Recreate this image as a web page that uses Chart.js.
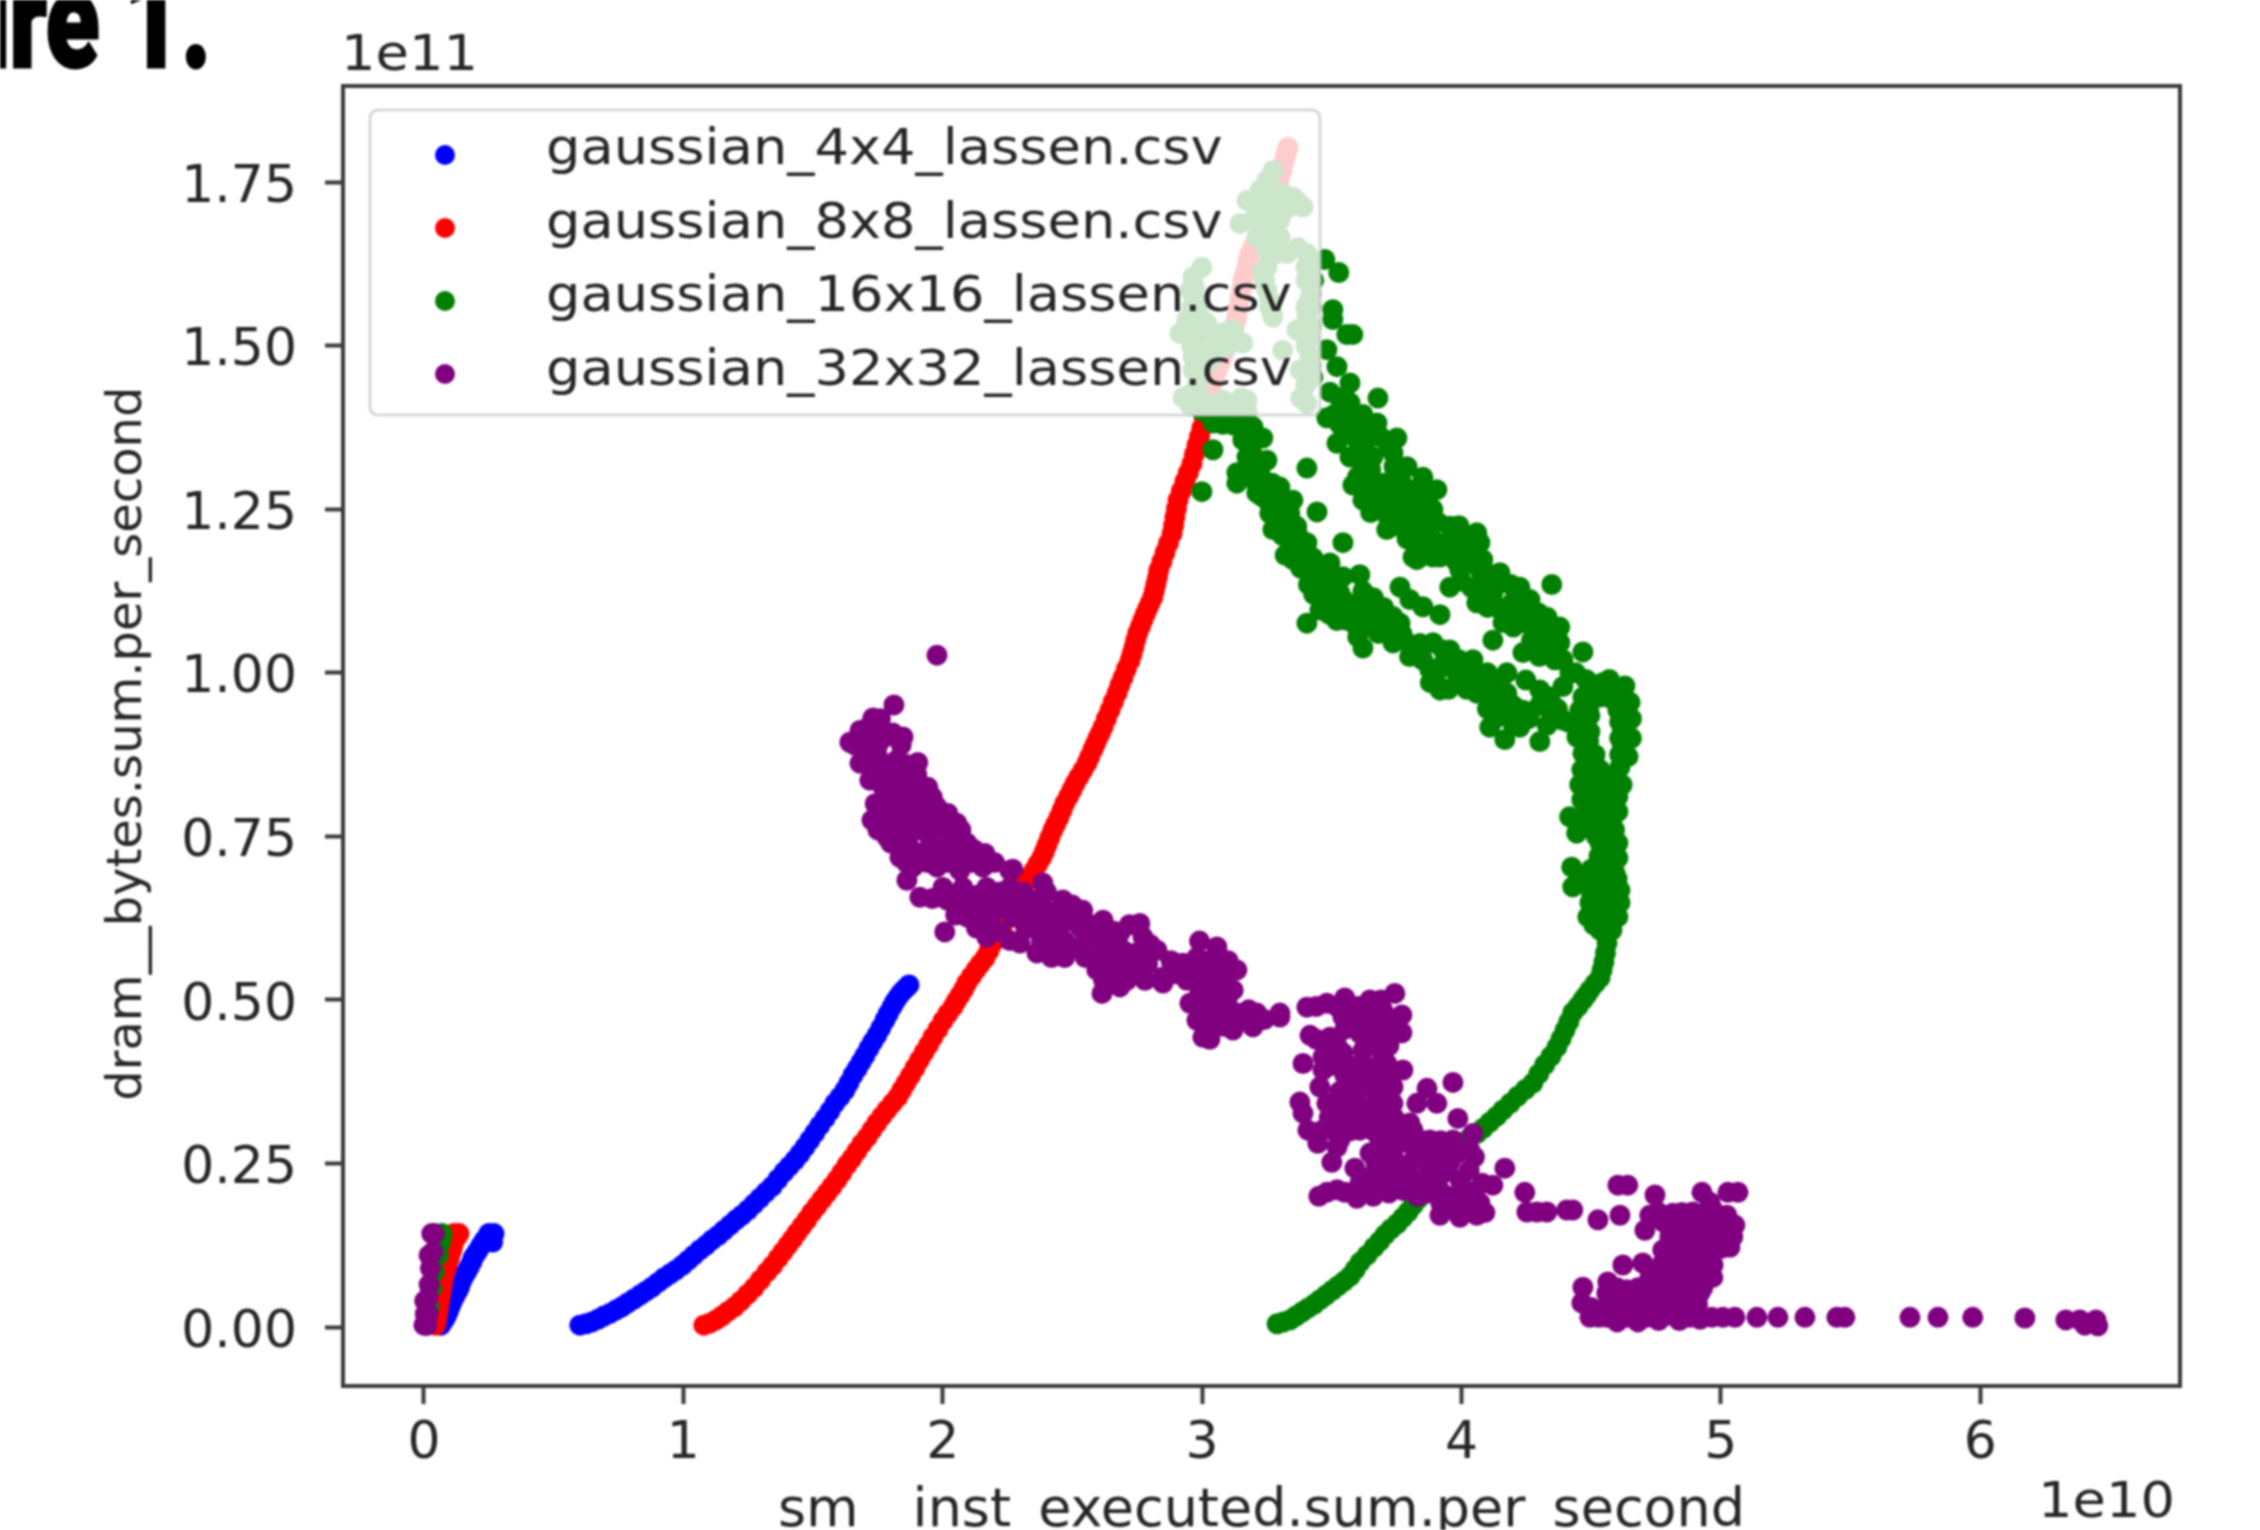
<!DOCTYPE html>
<html>
<head>
<meta charset="utf-8">
<script src="https://cdn.jsdelivr.net/npm/chart.js@4"></script>
<style>
html,body{margin:0;padding:0;background:#fff;overflow:hidden}
canvas{display:block;filter:blur(1px)}
</style>
</head>
<body>
<canvas id="c" width="2260" height="1530"></canvas>
<script>
const seriesLabels = ["gaussian_4x4_lassen.csv","gaussian_8x8_lassen.csv","gaussian_16x16_lassen.csv","gaussian_32x32_lassen.csv"];
const xTickValues = [0,1,2,3,4,5,6];
const yTickValues = [0,0.25,0.5,0.75,1,1.25,1.5,1.75];
const xAxisLabel = "sm__inst_executed.sum.per_second";
const yAxisLabel = "dram__bytes.sum.per_second ";

const gaussian4x4 = [[.065,.003],[.08,.012],[.095,.025],[.11,.04],[.13,.055],[.145,.07],[.165,.085],[.185,.1],[.2,.112],[.22,.125],[.245,.138],[.27,.143],[.25,.143],
[.072,.008],[.088,.018],[.102,.032],[.12,.048],[.138,.062],[.155,.078],[.175,.092],[.19,.106],[.21,.118],[.232,.132],[.258,.14],[.265,.13],
[.601,.003],[.648,.008],[.694,.017],[.74,.026],[.786,.037],[.833,.049],[.879,.061],[.925,.075],[.971,.087],[1.018,.102],[1.064,.118],[1.11,.133],[1.157,.148],[1.203,.164],[1.249,.179],[1.295,.197],[1.342,.215],[1.388,.237],[1.43,.255],[1.469,.275],[1.507,.297],[1.546,.319],[1.584,.342],[1.623,.362],[1.654,.385],[1.685,.405],[1.715,.426],[1.746,.446],[1.777,.469],[1.804,.489],[1.827,.504],[1.85,.515],[1.87,.523],
[.625,.005],[.671,.012],[.717,.021],[.763,.031],[.81,.043],[.856,.055],[.902,.068],[.948,.081],[.995,.094],[1.041,.11],[1.087,.125],[1.134,.14],[1.18,.156],[1.226,.171],[1.272,.188],[1.318,.206],[1.365,.226],[1.409,.246],[1.45,.265],[1.488,.286],[1.526,.308],[1.565,.33],[1.604,.352],[1.638,.373],[1.67,.395],[1.7,.415],[1.73,.436],[1.761,.457],[1.79,.479],[1.815,.497],[1.838,.51],[1.86,.519]];

const gaussian8x8 = [[.045,.003],[.055,.025],[.065,.05],[.075,.075],[.09,.095],[.105,.115],[.115,.13],[.135,.143],[.115,.143],
[.05,.014],[.06,.038],[.07,.062],[.082,.085],[.098,.105],[.11,.122],[.125,.137],
[1.079,.003],[1.126,.011],[1.172,.024],[1.222,.04],[1.272,.06],[1.322,.084],[1.365,.105],[1.403,.125],[1.438,.144],[1.476,.164],[1.515,.185],[1.554,.205],[1.592,.225],[1.631,.248],[1.669,.269],[1.708,.29],[1.746,.312],[1.785,.332],[1.827,.352],[1.858,.373],[1.893,.396],[1.928,.42],[1.962,.443],[2.001,.468],[2.039,.489],[2.066,.507],[2.093,.526],[2.128,.546],[2.163,.564],[2.193,.587],[2.228,.61],[2.259,.634],[2.29,.657],[2.321,.68],[2.352,.698],[2.382,.718],[2.402,.737],[2.425,.76],[2.448,.779],[2.471,.801],[2.498,.821],[2.525,.841],[2.556,.862],[2.579,.883],[2.598,.9],[2.618,.917],[2.645,.943],[2.672,.969],[2.695,.993],[2.722,1.019],[2.737,1.039],[2.752,1.061],[2.772,1.081],[2.791,1.099],[2.81,1.116],[2.822,1.136],[2.833,1.157],[2.857,1.184],[2.884,1.213],[2.895,1.238],[2.907,1.264],[2.934,1.293],[2.961,1.32],[2.98,1.348],[2.999,1.374],[3.018,1.405],[3.03,1.432],[3.049,1.453],[3.069,1.473],[3.088,1.492],[3.107,1.508],[3.123,1.527],[3.134,1.544],[3.146,1.573],[3.157,1.6],[3.173,1.622],[3.184,1.641],[3.211,1.664],[3.242,1.689],[3.269,1.707],[3.288,1.738],[3.308,1.768],[3.319,1.787],[3.331,1.803],
[1.102,.006],[1.149,.017],[1.197,.031],[1.247,.05],[1.297,.072],[1.344,.094],[1.384,.115],[1.42,.134],[1.457,.154],[1.495,.175],[1.534,.195],[1.573,.215],[1.611,.236],[1.65,.258],[1.688,.28],[1.727,.301],[1.765,.322],[1.806,.342],[1.842,.362],[1.875,.384],[1.91,.408],[1.945,.431],[1.981,.455],[2.02,.479],[2.052,.498],[2.08,.516],[2.11,.536],[2.145,.555],[2.178,.575],[2.21,.598],[2.243,.622],[2.275,.645],[2.305,.668],[2.336,.689],[2.367,.708],[2.392,.727],[2.413,.748],[2.436,.769],[2.46,.79],[2.485,.811],[2.51,.831],[2.54,.851],[2.567,.872],[2.588,.891],[2.608,.908],[2.631,.93],[2.658,.956],[2.683,.981],[2.708,1.006],[2.73,1.029],[2.744,1.05],[2.762,1.071],[2.781,1.09],[2.8,1.107],[2.816,1.126],[2.828,1.146],[2.845,1.17],[2.87,1.198],[2.89,1.225],[2.901,1.251],[2.92,1.278],[2.947,1.306],[2.97,1.334],[2.99,1.361],[3.008,1.39],[3.024,1.418],[3.04,1.442],[3.059,1.463],[3.078,1.482],[3.097,1.5],[3.115,1.517],[3.128,1.535],[3.14,1.558],[3.151,1.586],[3.165,1.611],[3.178,1.631],[3.197,1.652],[3.226,1.676],[3.255,1.698],[3.278,1.722],[3.298,1.753],[3.313,1.778],[3.325,1.795]];

const gaussian16x16 = [[.012,.003],[.02,.03],[.03,.06],[.04,.085],[.055,.11],[.065,.13],[.07,.143],
[3.289,.005],[3.339,.011],[3.385,.023],[3.432,.035],[3.478,.049],[3.524,.063],[3.571,.078],[3.609,.099],[3.663,.122],[3.705,.141],[3.752,.158],[3.794,.176],[3.833,.196],[3.886,.225],[3.94,.255],[3.994,.278],[4.059,.296],[4.109,.313],[4.16,.332],[4.217,.353],[4.275,.373],[4.321,.401],[4.368,.428],[4.399,.454],[4.429,.481],[4.468,.5],[4.495,.515],[4.534,.534],[4.549,.558],[4.561,.587],
[3.314,.008],[3.362,.017],[3.408,.029],[3.455,.042],[3.501,.056],[3.547,.07],[3.59,.088],[3.636,.11],[3.684,.131],[3.728,.15],[3.773,.167],[3.813,.186],[3.86,.21],[3.913,.24],[3.967,.266],[4.026,.287],[4.084,.304],[4.135,.322],[4.188,.342],[4.246,.363],[4.298,.387],[4.345,.414],[4.384,.441],[4.414,.467],[4.449,.49],[4.481,.507],[4.515,.525],[4.542,.546],[4.555,.572],
[4.534,.607],[4.58,.607],[4.487,.627],[4.553,.627],[4.603,.627],[4.495,.649],[4.572,.649],[4.611,.649],[4.518,.673],[4.58,.673],[4.429,.673],[4.611,.668],[4.526,.694],[4.592,.694],[4.425,.703],[4.553,.717],[4.603,.717],[4.534,.74],[4.603,.74],[4.444,.755],[4.495,.763],[4.572,.763],[4.417,.78],[4.476,.783],[4.553,.783],[4.603,.788],[4.464,.806],[4.534,.806],[4.603,.811],[4.456,.829],[4.534,.829],[4.619,.829],[4.464,.852],[4.534,.852],[4.611,.856],[4.468,.877],[4.495,.856],[4.561,.841],[4.642,.872],[4.642,.902],[4.65,.928],[4.445,.902],[4.468,.917],[4.456,.943],[4.603,.943],[4.626,.963],[4.534,.963],[4.468,.963],[4.495,.985],[4.545,.985],[4.391,.979],[4.418,1],
[4.495,.88],[4.495,.91],[4.495,.935],[4.495,.96],[4.61,.875],[4.61,.9],[4.61,.925],[4.615,.95],[4.655,.9],[4.655,.93],[4.65,.955],
[4.56,.6],[4.51,.615],[4.525,.63],[4.59,.625],[4.535,.655],[4.59,.66],[4.5,.665],[4.55,.68],[4.6,.685],[4.47,.69],[4.5,.7],[4.55,.7],[4.57,.71],[4.53,.72],[4.58,.73],[4.57,.745],[4.52,.75],[4.55,.755],[4.59,.76],[4.53,.775],[4.58,.775],[4.5,.785],[4.51,.8],[4.57,.8],[4.49,.815],[4.55,.82],[4.59,.825],[4.48,.84],[4.51,.84],[4.575,.84],[4.49,.87],[4.515,.875],[4.62,.89],[4.62,.915],[4.62,.94],[4.64,.95],[4.49,.895],[4.47,.93],[4.49,.945],[4.58,.96],[4.6,.975],[4.52,.98],[4.57,.99],[4.63,.98],
[4.391,1.02],[4.329,1.031],[4.237,1.031],[4.468,1.032],[4.379,1.046],[4.314,1.05],[4.121,1.05],[4.379,1.07],[4.352,1.066],[4.237,1.077],[4.16,1.077],[4.295,1.092],[4.136,1.101],[4.059,1.107],[4.264,1.112],[4.348,1.135],[4.225,1.131],[4.16,1.138],[4.082,1.131],[3.955,1.131],[4.148,1.153],[4.071,1.157],[3.994,1.157],[4.059,1.177],[3.967,1.177],[3.89,1.177],[3.813,1.177],[3.763,1.131],[3.801,1.112],[3.851,1.101],[3.917,1.089],[4.082,1.173],[3.917,1.177],[3.828,1.173],[3.994,1.199],[4.071,1.199],[3.905,1.199],[3.828,1.199],[3.712,1.219],[3.79,1.224],[3.867,1.224],[3.955,1.224],[4.059,1.214],[3.674,1.25],[3.751,1.25],[3.828,1.25],[3.89,1.25],[3.62,1.264],[3.697,1.269],[3.867,1.264],[3.905,1.28],[3.581,1.287],[3.658,1.29],[3.736,1.295],[3.851,1.299],[3.79,1.315],[3.57,1.33],[3.658,1.33],[3.736,1.336],[3.52,1.351],[3.597,1.356],[3.751,1.359],[3.674,1.382],[3.481,1.39],[3.57,1.413],[3.608,1.387],[3.678,1.42],[3.493,1.429],[3.57,1.443],[3.52,1.468],[3.481,1.494],[3.558,1.517],[3.581,1.517],[3.504,1.54],[3.504,1.555],[3.527,1.612],[3.473,1.632],
[3.53,1.42],[3.55,1.4],[3.53,1.38],[3.51,1.395],[3.62,1.395],[3.65,1.37],[3.58,1.37],[3.55,1.365],[3.63,1.36],[3.69,1.36],[3.72,1.345],[3.6,1.335],[3.63,1.34],[3.62,1.315],[3.65,1.31],[3.74,1.315],[3.6,1.3],[3.62,1.285],[3.7,1.29],[3.77,1.29],[3.66,1.265],[3.72,1.265],[3.76,1.27],[3.8,1.28],[3.84,1.275],[3.65,1.245],[3.71,1.245],[3.79,1.25],[3.86,1.25],[3.72,1.235],[3.75,1.225],[3.83,1.225],[3.91,1.23],[3.99,1.225],[4.02,1.21],[3.87,1.2],[3.95,1.2],[4.03,1.2],[3.79,1.205],[3.86,1.18],[3.95,1.185],[3.98,1.17],[4.03,1.175],[4.09,1.155],[4.12,1.145],[4.0,1.14],[4.04,1.13],[4.12,1.12],[4.19,1.135],[4.2,1.11],[4.22,1.095],[4.1,1.1],[4.18,1.1],[4.27,1.09],[4.2,1.07],[4.3,1.07],[4.33,1.085],[4.27,1.05],[4.35,1.045],[4.3,1.025],[4.36,1.02],[4.44,1.0],[4.48,.99],
[3.042,1.382],[3.119,1.379],[3.196,1.376],[3.157,1.356],[3.234,1.359],[3.042,1.341],[3.173,1.33],[3.25,1.325],[3.134,1.306],[3.134,1.29],[3.223,1.306],[3.404,1.313],[2.999,1.277],[3.211,1.275],[3.3,1.284],[3.25,1.264],[3.35,1.264],[3.261,1.244],[3.338,1.244],[3.443,1.246],[3.273,1.219],[3.365,1.224],[3.338,1.199],[3.404,1.199],[3.543,1.199],[3.35,1.173],[3.427,1.176],[3.493,1.168],[3.454,1.147],[3.543,1.147],[3.608,1.15],[3.454,1.116],[3.531,1.122],[3.635,1.116],[3.454,1.096],[3.404,1.076],[3.581,1.096],[3.674,1.096],[3.597,1.07],[3.697,1.076],[3.763,1.076],[3.608,1.107],[3.608,1.076],[3.674,1.081],[3.736,1.086],[3.62,1.038],[3.736,1.046],[3.813,1.04],[3.89,1.046],[3.955,1.035],[4.044,1.02],[3.878,1.005],[3.955,1.009],[4.021,1.005],[3.917,.974],[3.982,.985],[4.059,.969],[4.121,.985],[4.175,1],[4.175,.969],[4.237,.943],[4.175,.933],[4.109,.917],[4.167,.898],[4.302,.895],[4.225,.917],[4.341,.943],[4.391,.928],[4.341,.963],[4.302,.974],[4.248,.989],
[3.08,1.38],[3.16,1.375],[3.2,1.36],[3.19,1.34],[3.21,1.32],[3.17,1.31],[3.2,1.295],[3.24,1.29],[3.27,1.29],[3.23,1.27],[3.29,1.26],[3.32,1.255],[3.3,1.235],[3.33,1.225],[3.31,1.21],[3.37,1.21],[3.37,1.19],[3.32,1.18],[3.39,1.18],[3.38,1.16],[3.41,1.16],[3.44,1.16],[3.41,1.135],[3.49,1.14],[3.43,1.12],[3.48,1.115],[3.5,1.1],[3.55,1.11],[3.49,1.09],[3.52,1.08],[3.56,1.08],[3.62,1.125],[3.66,1.115],[3.7,1.1],[3.63,1.09],[3.65,1.07],[3.6,1.055],[3.68,1.06],[3.72,1.06],[3.77,1.06],[3.78,1.05],[3.84,1.045],[3.93,1.035],[3.99,1.02],[3.8,1.025],[3.85,1.02],[3.92,1.01],[3.99,1],[4.05,.995],[3.9,.99],[3.95,.975],[4.02,.975],[4.09,.97],[4.14,.965],[3.88,.985],[4.02,.99],[4.1,1],[4.1,.945],[4.15,.945],[4.2,.95],[4.3,.95],[4.13,.93],[4.2,.92],[4.26,.93],[4.37,.945],[4.33,.92],[4.37,.93],[4.41,.925],
[2.999,1.62],[2.965,1.605],[2.953,1.585],[2.991,1.565],[2.941,1.539],[3.018,1.535],[2.914,1.519],[2.98,1.513],[3.057,1.508],[3.119,1.524],[3.157,1.504],[2.965,1.483],[3.03,1.478],[2.965,1.463],[3.311,1.493],[3.377,1.463],[2.926,1.421],[3.003,1.417],[3.08,1.417],[3.173,1.417],[3.107,1.401],[3.03,1.401],[3.173,1.401],[2.953,1.409],
[2.97,1.59],[2.96,1.56],[3.0,1.54],[2.95,1.52],[2.99,1.53],[3.03,1.52],[3.08,1.52],[3.1,1.5],[2.96,1.5],[3.0,1.49],[3.05,1.49],[3.0,1.46],[2.98,1.44],[2.95,1.425],[3.05,1.41],[3.12,1.41],[3.15,1.42],[3.0,1.4],
[3.273,1.768],[3.25,1.753],[3.223,1.738],[3.173,1.722],[3.234,1.727],[3.311,1.733],[3.389,1.712],[3.35,1.727],[3.288,1.718],[3.211,1.707],[3.146,1.687],[3.223,1.692],[3.3,1.692],[3.211,1.666],[3.3,1.666],[3.25,1.646],[3.404,1.641],[3.327,1.641],[3.234,1.615],[3.427,1.626],[3.416,1.6],[3.25,1.585],[3.416,1.574],[3.273,1.544],[3.404,1.544],[3.365,1.524],[3.416,1.513],[3.416,1.483],[3.427,1.452],[3.404,1.412],
[3.25,1.72],[3.27,1.74],[3.2,1.72],[3.26,1.705],[3.33,1.71],[3.37,1.72],[3.19,1.69],[3.25,1.68],[3.27,1.66],[3.24,1.66],[3.28,1.64],[3.37,1.65],[3.4,1.62],[3.25,1.62],[3.42,1.58],[3.42,1.56],[3.26,1.56],[3.4,1.525],[3.24,1.6],[3.26,1.57],[3.27,1.55],[3.4,1.6],[3.43,1.6],[3.4,1.56],[3.42,1.53],[3.4,1.5],[3.42,1.47],[3.4,1.44],[3.38,1.42]];

const gaussian32x32 = [[.0,.003],[.012,.003],[.005,.02],[.016,.02],[.003,.04],[.016,.045],[.02,.065],[.025,.09],[.02,.11],[.035,.115],[.04,.143],[.03,.143],
[1.978,1.027],[2.008,.604],[1.812,.951],[1.731,.931],[1.681,.912],[1.642,.894],[1.719,.902],[1.808,.908],[1.847,.902],[1.681,.862],[1.746,.877],[1.823,.867],[1.904,.863],[1.719,.836],[1.796,.841],[1.874,.836],[1.943,.825],[1.769,.805],[1.847,.81],[1.924,.805],[1.978,.795],[1.727,.775],[1.823,.786],[1.901,.779],[1.978,.779],[2.055,.77],[1.785,.749],[1.862,.755],[1.939,.755],[2.028,.755],[2.093,.74],[1.835,.718],[1.912,.724],[1.989,.729],[2.066,.724],[2.163,.724],[1.862,.683],[1.885,.703],[1.978,.703],[2.066,.698],[2.155,.703],[2.259,.698],[1.912,.657],[2.001,.672],[2.078,.672],[2.17,.672],[2.259,.672],[2.386,.679],[2.016,.653],[2.093,.648],[2.182,.653],[2.286,.653],[2.363,.653],[2.463,.653],[2.093,.627],[2.182,.627],[2.271,.627],[2.363,.627],[2.452,.633],[2.54,.637],[2.17,.596],[2.259,.591],[2.298,.587],[2.363,.607],[2.44,.607],[2.529,.611],[2.618,.622],[2.76,.617],[2.363,.572],[2.425,.587],[2.502,.581],[2.594,.596],[2.683,.602],[2.772,.596],[2.594,.565],[2.672,.576],[2.749,.572],[2.826,.576],[2.594,.546],[2.672,.546],[2.749,.546],[2.849,.535],[2.926,.556],[2.614,.51],[2.683,.52],[2.849,.526],[2.98,.565],[3.057,.581],[3.08,.561],[3.134,.546],[3.018,.546],[2.941,.53],[3.03,.526],[3.08,.535],[2.953,.495],[3.03,.5],[3.096,.5],[2.98,.469],[3.057,.474],[3.134,.48],[3.211,.48],[3.3,.48],[3.003,.443],[3.119,.454],[3.196,.459],[3.042,.459],
[1.76,.93],[1.72,.92],[1.77,.9],[1.66,.89],[1.7,.885],[1.75,.89],[1.84,.89],[1.7,.865],[1.76,.86],[1.79,.86],[1.86,.86],[1.75,.84],[1.83,.85],[1.9,.845],[1.77,.825],[1.81,.825],[1.87,.82],[1.92,.825],[1.74,.8],[1.8,.805],[1.88,.8],[1.96,.81],[1.78,.78],[1.85,.785],[1.94,.785],[2.02,.785],[1.75,.76],[1.82,.765],[1.9,.76],[1.98,.76],[2.07,.76],[1.8,.74],[1.87,.735],[1.95,.735],[2.03,.735],[2.12,.73],[1.86,.71],[1.94,.71],[2.02,.71],[2.11,.71],[2.2,.71],[2.27,.7],[1.96,.655],[2.04,.66],[2.13,.66],[2.22,.665],[2.31,.665],[2.4,.665],[2.5,.645],[2.05,.63],[2.13,.635],[2.23,.64],[2.32,.64],[2.42,.635],[2.13,.61],[2.22,.605],[2.32,.61],[2.41,.61],[2.48,.62],[2.57,.615],[2.66,.605],[2.72,.615],[2.47,.59],[2.55,.585],[2.63,.585],[2.7,.575],[2.8,.585],[2.38,.59],[2.42,.565],[2.47,.565],[2.55,.565],[2.63,.56],[2.71,.56],[2.79,.555],[2.88,.56],[2.65,.53],[2.62,.53],[2.71,.53],[2.78,.53],[2.95,.55],[2.9,.54],[2.99,.59],[3.02,.56],[3.05,.56],[3.1,.56],[2.97,.53],[2.99,.51],[3.06,.52],[3.12,.515],[3.01,.485],[3.08,.48],[3.0,.465],[3.03,.44],[3.08,.46],[3.16,.47],[3.24,.47],[3.18,.485],
[3.3,.474],[3.404,.489],[3.481,.495],[3.55,.503],[3.647,.5],[3.743,.51],[3.543,.474],[3.635,.48],[3.697,.484],[3.77,.477],[3.416,.446],[3.493,.443],[3.608,.449],[3.685,.451],[3.751,.451],[3.466,.413],[3.543,.419],[3.62,.423],[3.693,.419],[3.389,.403],[3.466,.393],[3.57,.397],[3.647,.397],[3.774,.393],[3.712,.403],[3.454,.367],[3.57,.373],[3.658,.373],[3.736,.367],[3.867,.365],[3.967,.374],[3.377,.344],[3.481,.342],[3.581,.351],[3.674,.351],[3.828,.342],[3.905,.342],[3.736,.342],[3.389,.327],[3.986,.319],[3.531,.312],[3.62,.316],[3.712,.316],[3.801,.312],[3.408,.301],[3.52,.296],[3.608,.301],[3.712,.301],[3.813,.301],[4.044,.296],[3.446,.281],[3.531,.286],[3.685,.281],[3.763,.286],[3.878,.286],[3.967,.286],[3.5,.252],[3.647,.266],[3.736,.266],[3.828,.271],[3.917,.271],[4.032,.271],[3.589,.243],[3.751,.245],[3.867,.251],[3.955,.251],[4.167,.243],[3.608,.22],[3.697,.225],[3.79,.225],[3.878,.229],[3.994,.225],[4.121,.217],[3.481,.206],[3.55,.206],[3.674,.214],[3.774,.209],[3.917,.209],[4.021,.209],[3.597,.197],[3.928,.19],[4.005,.194],[4.071,.19],[3.917,.171],[3.994,.168],[4.059,.171],[4.244,.206],
[3.44,.49],[3.52,.49],[3.6,.49],[3.69,.5],[3.58,.47],[3.66,.465],[3.73,.47],[3.55,.455],[3.65,.46],[3.72,.46],[3.77,.45],[3.44,.44],[3.52,.43],[3.65,.435],[3.72,.43],[3.5,.42],[3.5,.4],[3.6,.4],[3.68,.39],[3.72,.38],[3.62,.38],[3.7,.37],[3.55,.385],[3.53,.36],[3.6,.36],[3.7,.36],[3.74,.32],[3.7,.33],[3.62,.335],[3.55,.335],[3.49,.32],[3.5,.33],[3.57,.325],[3.66,.325],[3.78,.3],[3.46,.3],[3.57,.3],[3.66,.3],[3.76,.3],[3.85,.285],[3.92,.285],[3.52,.275],[3.72,.27],[3.8,.28],[3.9,.265],[3.67,.25],[3.72,.24],[3.8,.25],[3.9,.25],[3.98,.265],[4.05,.26],[3.65,.23],[3.75,.225],[3.83,.225],[3.93,.235],[4.03,.24],[4.08,.22],[3.6,.2],[3.66,.2],[3.72,.205],[3.83,.2],[3.87,.205],[3.95,.2],[4.04,.2],[3.96,.18],[4.03,.18],[4.09,.175],[3.45,.2],[3.52,.21],[3.92,.19],
[4.252,.176],[4.291,.176],[4.329,.176],[4.406,.179],[4.429,.179],[4.603,.217],[4.641,.217],[4.746,.202],[4.927,.206],[4.958,.191],[5.027,.206],[5.066,.206],[4.526,.164],[4.611,.171],[4.726,.171],[4.707,.148],[4.815,.174],[4.892,.176],[4.969,.179],[5.023,.171],[5.054,.156],[5.046,.138],[5.035,.122],[4.946,.159],[4.88,.144],[4.803,.138],[4.969,.138],[4.776,.118],[4.869,.118],[4.958,.118],[4.622,.095],[4.699,.098],[4.776,.098],[4.869,.092],[4.946,.098],[4.564,.069],[4.726,.076],[4.815,.072],[4.907,.072],[4.969,.076],[4.468,.061],[4.56,.052],[4.638,.057],[4.715,.052],[4.803,.052],[4.919,.052],[4.464,.037],[4.56,.031],[4.638,.031],[4.715,.031],[4.803,.031],[4.869,.031],[4.495,.015],[4.56,.015],[4.638,.015],[4.715,.015],[4.792,.018],[4.88,.015],[4.965,.015],[5.008,.015],[5.054,.015],[5.139,.015],[5.22,.015],[5.324,.015],[5.447,.015],[5.478,.015],[5.729,.015],[5.837,.015],[5.971,.015],[6.172,.014],[6.33,.011],[6.384,.011],[6.446,.011],[6.403,.003],[6.453,.002],
[4.76,.175],[4.85,.175],[4.93,.17],[4.99,.16],[5.0,.14],[4.85,.16],[4.78,.16],[4.9,.155],[4.98,.155],[4.92,.135],[4.85,.13],[4.9,.12],[5.0,.12],[4.82,.115],[4.92,.1],[4.82,.1],[4.74,.085],[4.83,.085],[4.91,.09],[4.97,.095],[4.77,.07],[4.86,.07],[4.6,.06],[4.68,.06],[4.76,.055],[4.85,.055],[4.93,.06],[4.6,.04],[4.68,.04],[4.76,.04],[4.84,.04],[4.91,.035],[4.5,.03],[4.6,.02],[4.68,.02],[4.76,.025],[4.84,.02],[4.53,.015],[4.6,.008],[4.68,.008],[4.76,.01],[4.84,.01],[4.92,.012]];

const seriesValues = [gaussian4x4, gaussian8x8, gaussian16x16, gaussian32x32];
const seriesColors = ["#0000ff","#ff0000","#008000","#800080"];
const FONT = "'DejaVu Sans'";
const TEXT = "#262626";

function stretchedText(ctx, text, x, y, align) {
  ctx.save();
  ctx.translate(x, y);
  ctx.scale(1.085, 1);
  ctx.textAlign = align;
  ctx.fillText(text, 0, 0);
  ctx.restore();
}

const frameAndNotes = {
  id: "frameAndNotes",
  beforeDraw(chart) {
    if (chart.$labelsShifted) return;
    chart.$labelsShifted = true;
    chart.scales.y.getLabelItems(chart.chartArea).forEach(it => { it.options.translation[1] += 6; });
  },
  afterDraw(chart) {
    const {ctx, chartArea: a} = chart;
    ctx.save();
    ctx.strokeStyle = "#3a3a3a"; ctx.lineWidth = 4;
    ctx.strokeRect(a.left, a.top, a.right - a.left, a.bottom - a.top);
    ctx.beginPath();
    ctx.roundRect(370, 110, 950, 305, 8);
    ctx.fillStyle = "rgba(255,255,255,0.8)"; ctx.fill();
    ctx.strokeStyle = "rgba(204,204,204,0.8)"; ctx.lineWidth = 3; ctx.stroke();
    ctx.font = "50px " + FONT; ctx.textBaseline = "alphabetic";
    seriesLabels.forEach((label, i) => {
      ctx.fillStyle = seriesColors[i];
      ctx.beginPath(); ctx.arc(445, 155 + i * 73, 10, 0, Math.PI * 2); ctx.fill();
      ctx.fillStyle = TEXT;
      stretchedText(ctx, label, 546, 164 + i * 73.7, "left");
    });
    ctx.fillStyle = TEXT;
    stretchedText(ctx, "1e11", 341, 70, "left");
    stretchedText(ctx, "1e10", 2175, 1517, "right");
    ctx.translate(211, 67);
    ctx.scale(0.73, 1);
    ctx.textAlign = "right";
    ctx.fillStyle = "#000"; ctx.strokeStyle = "#000"; ctx.lineWidth = 3; ctx.lineJoin = "miter";
    ctx.font = "900 135px Roboto";
    ctx.fillText("Figure 1.", 0, 0);
    ctx.strokeText("Figure 1.", 0, 0);
    ctx.restore();
  }
};

new Chart(document.getElementById("c"), {
  type: "scatter",
  data: {
    datasets: seriesLabels.map((label, i) => ({
      label,
      data: seriesValues[i].map(p => ({x: p[0], y: p[1]})),
      backgroundColor: seriesColors[i],
      borderWidth: 0,
      pointRadius: 10.5,
      pointHoverRadius: 10.5,
      order: seriesLabels.length - i
    }))
  },
  plugins: [frameAndNotes],
  options: {
    responsive: false,
    animation: false,
    events: [],
    layout: {padding: {top: 86, right: 80, left: 0, bottom: 0}},
    plugins: {legend: {display: false}, tooltip: {enabled: false}, title: {display: false}},
    scales: {
      x: {
        type: "linear", min: -0.312, max: 6.77,
        afterBuildTicks: s => { s.ticks = xTickValues.map(v => ({value: v})); },
        afterFit: s => { s.height = 144; },
        border: {display: false},
        grid: {drawOnChartArea: false, drawTicks: true, tickLength: 18, tickWidth: 4, tickColor: "#3a3a3a"},
        ticks: {color: TEXT, font: {family: FONT, size: 52}, padding: 9, maxRotation: 0, autoSkip: false, callback: v => String(v)},
        title: {display: true, text: xAxisLabel, color: TEXT, font: {family: FONT, size: 54, lineHeight: 1}, padding: {top: 0, bottom: -9}}
      },
      y: {
        type: "linear", min: -0.09, max: 1.897,
        afterBuildTicks: s => { s.ticks = yTickValues.map(v => ({value: v})); },
        afterFit: s => { s.width = 343; },
        border: {display: false},
        grid: {drawOnChartArea: false, drawTicks: true, tickLength: 18, tickWidth: 4, tickColor: "#3a3a3a"},
        ticks: {color: TEXT, font: {family: FONT, size: 52}, padding: 28, autoSkip: false, callback: v => v.toFixed(2)},
        title: {display: true, text: yAxisLabel, color: TEXT, font: {family: FONT, size: 48, lineHeight: 1}, padding: {top: 105, bottom: 0}}
      }
    }
  }
});
</script>
</body>
</html>
